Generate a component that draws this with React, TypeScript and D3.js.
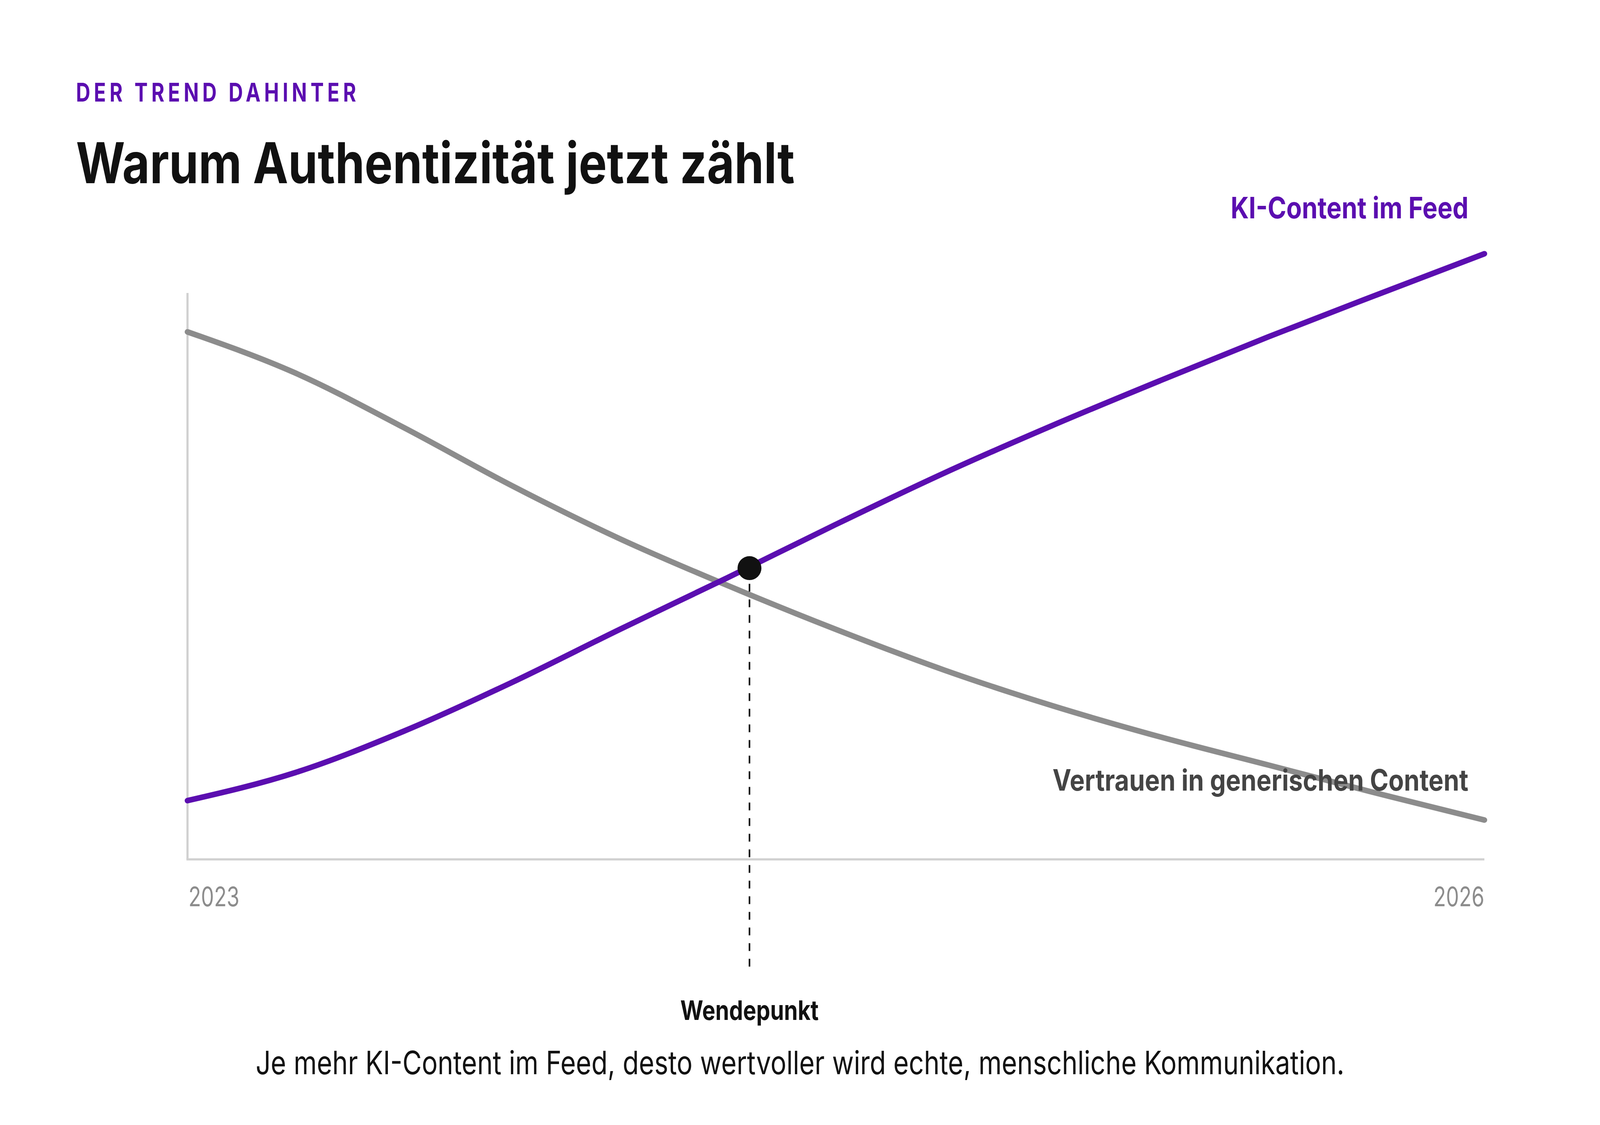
import React, { useEffect, useState } from "react";
import * as d3 from "d3";

// ---- data ----
const years = [2023, 2023.25, 2023.5, 2023.75, 2024, 2024.25, 2024.5, 2024.75, 2025, 2025.25, 2025.5, 2025.75, 2026];
const kiContent = [9.4, 13.9, 20.5, 28.3, 36.8, 45.1, 53.6, 61.8, 69.4, 76.6, 83.6, 90.3, 96.9];
const vertrauen = [84.4, 77.8, 69.1, 59.8, 51.3, 43.8, 36.8, 30.3, 24.6, 19.6, 15.1, 10.6, 6.3];
const tickYears = [2023, 2026];
const turningPoint = { year: 2024.3, value: 46.6, label: "Wendepunkt" };

const kicker = "DER TREND DAHINTER";
const title = "Warum Authentizität jetzt zählt";
const seriesLabelKI = "KI-Content im Feed";
const seriesLabelTrust = "Vertrauen in generischen Content";
const caption = "Je mehr KI-Content im Feed, desto wertvoller wird echte, menschliche Kommunikation.";

// ---- layout (design space 5120 x 2880) ----
const W = 5120;
const H = 2880;
const left = 600;
const right = 4750;
const bottom = 2200;
const axisTop = 750;
const top100 = 600;

const PURPLE = "#5B0EB0";
const GRAY = "#8C8C8C";
const FONT = "Inter, 'DejaVu Sans', sans-serif";

function useViewport() {
  const get = () => ({
    w: typeof window !== "undefined" ? window.innerWidth : W,
    h: typeof window !== "undefined" ? window.innerHeight : H,
  });
  const [size, setSize] = useState(get);
  useEffect(() => {
    const onResize = () => setSize(get());
    window.addEventListener("resize", onResize);
    return () => window.removeEventListener("resize", onResize);
  }, []);
  return size;
}

export default function App() {
  const { w, h } = useViewport();
  const sx = w / W;
  const sy = h / H;
  const ss = (sx + sy) / 2;
  const X = (v: number) => v * sx;
  const Y = (v: number) => v * sy;

  const x = d3.scaleLinear().domain([2023, 2026]).range([X(left), X(right)]);
  const y = d3.scaleLinear().domain([0, 100]).range([Y(bottom), Y(top100)]);

  const line = d3
    .line<number>()
    .x((_, i) => x(years[i]))
    .y((d) => y(d))
    .curve(d3.curveMonotoneX);

  const px = x(turningPoint.year);
  const py = y(turningPoint.value);

  return (
    <svg
      width={w}
      height={h}
      style={{ position: "fixed", left: 0, top: 0, display: "block", background: "#fff" }}
    >
      <rect x={0} y={0} width={w} height={h} fill="#fff" />

      <text x={X(243)} y={Y(260)} fontFamily={FONT} fontSize={66 * sy} fontWeight={700} fill={PURPLE}
        letterSpacing={12 * sy} textLength={X(908)} lengthAdjust="spacingAndGlyphs">{kicker}</text>
      <text x={X(243)} y={Y(469)} fontFamily={FONT} fontSize={144 * sy} fontWeight={700} fill="#111"
        textLength={X(2300)} lengthAdjust="spacingAndGlyphs">{title}</text>

      {/* axes */}
      <line x1={X(left)} y1={Y(axisTop)} x2={X(left)} y2={Y(bottom)} stroke="#D0D0D0" strokeWidth={6 * ss} />
      <line x1={X(left) - 3 * ss} y1={Y(bottom)} x2={X(right)} y2={Y(bottom)} stroke="#D0D0D0" strokeWidth={6 * ss} />

      {tickYears.map((t, i) => (
        <text key={t} x={i === 0 ? x(t) + 3 * sx : x(t)} y={Y(2320)} fontFamily={FONT} fontSize={69 * sy}
          fill={GRAY} textAnchor={i === 0 ? "start" : "end"} textLength={X(163)} lengthAdjust="spacingAndGlyphs">{t}</text>
      ))}

      {/* lines */}
      <path d={line(vertrauen) || ""} fill="none" stroke={GRAY} strokeWidth={16 * ss} strokeLinecap="round" />
      <path d={line(kiContent) || ""} fill="none" stroke={PURPLE} strokeWidth={16 * ss} strokeLinecap="round" />

      {/* turning point */}
      <line x1={px} y1={py} x2={px} y2={Y(2480)} stroke="#111" strokeWidth={4.5 * ss}
        strokeDasharray={`${20 * sy} ${20 * sy}`} />
      <circle cx={px} cy={py} r={34 * ss} fill="#111" />

      <text x={X(4699)} y={Y(559)} fontFamily={FONT} fontSize={76 * sy} fontWeight={700} fill={PURPLE}
        textAnchor="end" textLength={X(761)} lengthAdjust="spacingAndGlyphs">{seriesLabelKI}</text>
      <text x={X(4699)} y={Y(2024)} fontFamily={FONT} fontSize={75 * sy} fontWeight={700} fill="#444"
        textAnchor="end" textLength={X(1331)} lengthAdjust="spacingAndGlyphs">{seriesLabelTrust}</text>

      <text x={px} y={Y(2611)} fontFamily={FONT} fontSize={69 * sy} fontWeight={700} fill="#111"
        textAnchor="middle" textLength={X(443)} lengthAdjust="spacingAndGlyphs">{turningPoint.label}</text>

      <text x={w / 2} y={Y(2750)} fontFamily={FONT} fontSize={83 * sy} fill="#111"
        textAnchor="middle" textLength={X(3484)} lengthAdjust="spacingAndGlyphs">{caption}</text>
    </svg>
  );
}
